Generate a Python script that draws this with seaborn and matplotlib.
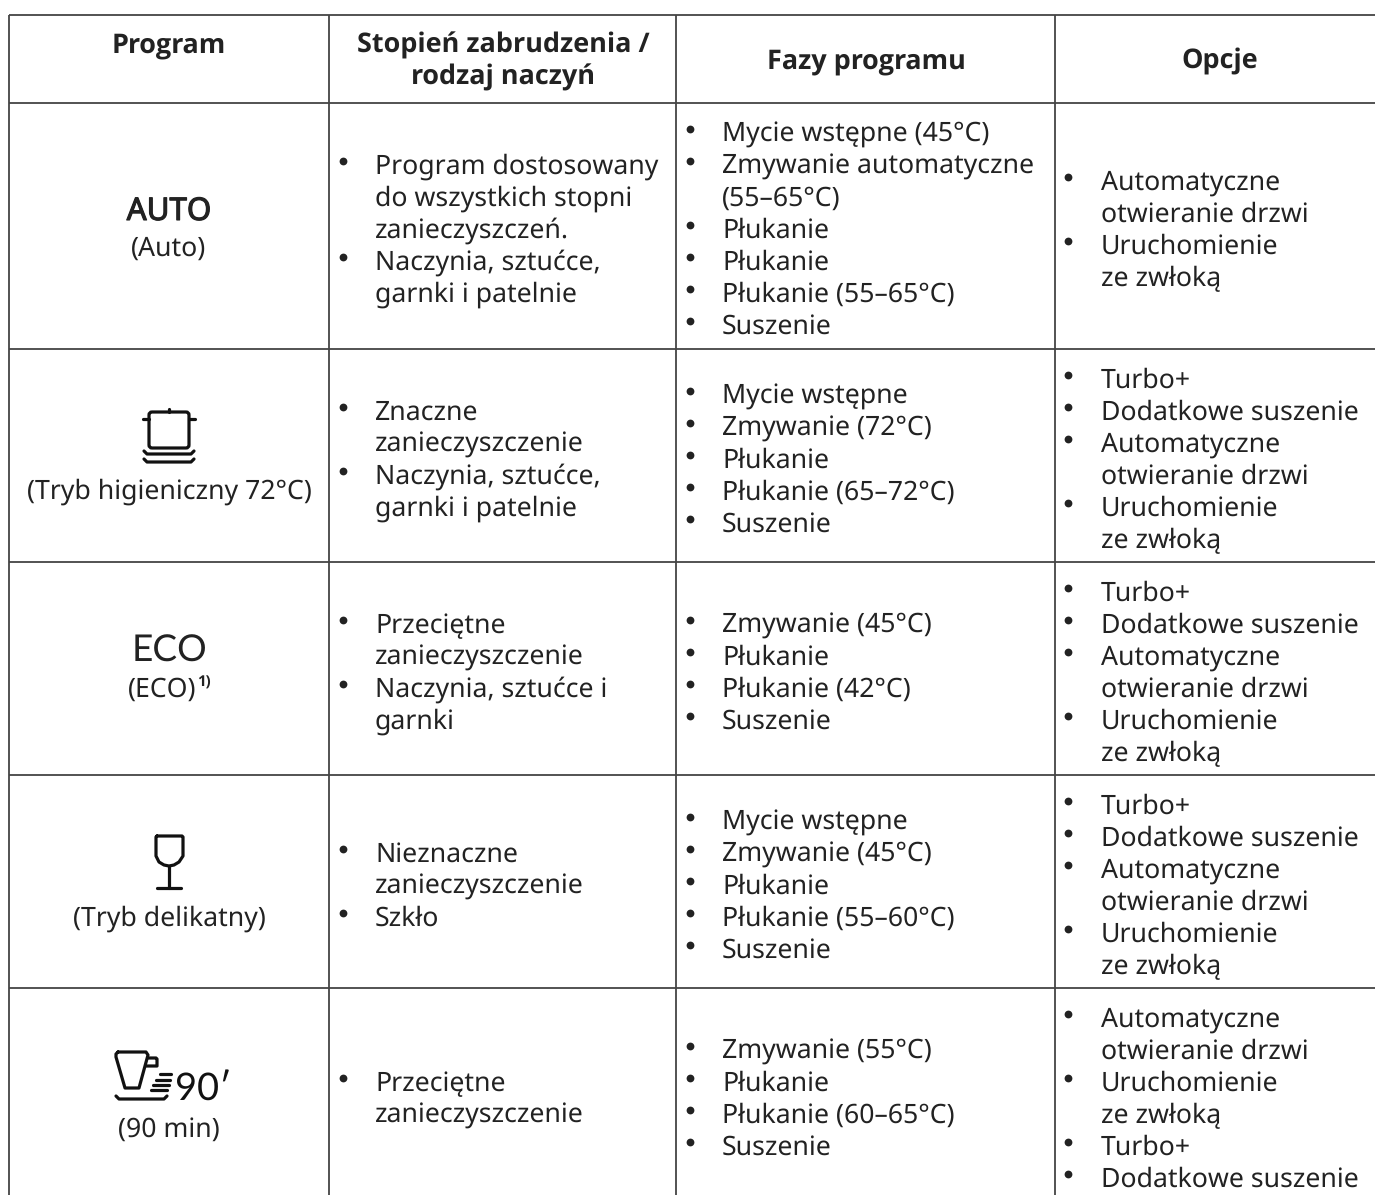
import matplotlib
matplotlib.use("Agg")
import matplotlib.pyplot as plt
import matplotlib.patheffects as pe
import seaborn as sns
from matplotlib.patches import FancyBboxPatch

sns.set_theme(style="white")
plt.rcParams["font.family"] = ["Noto Sans", "DejaVu Sans"]
plt.rcParams["text.hinting"] = "none"
plt.rcParams["text.hinting_factor"] = 1

# ====================================
# TABLE CONTENT
# ====================================

headers = ["Program", "Stopień zabrudzenia /\nrodzaj naczyń", "Fazy programu", "Opcje"]

program_names = ["(Auto)", "(Tryb higieniczny 72°C)", "(ECO)", "(Tryb delikatny)", "(90 min)"]

soil = [
    [["Program dostosowany", "do wszystkich stopni", "zanieczyszczeń."], ["Naczynia, sztućce,", "garnki i patelnie"]],
    [["Znaczne", "zanieczyszczenie"], ["Naczynia, sztućce,", "garnki i patelnie"]],
    [["Przeciętne", "zanieczyszczenie"], ["Naczynia, sztućce i", "garnki"]],
    [["Nieznaczne", "zanieczyszczenie"], ["Szkło"]],
    [["Przeciętne", "zanieczyszczenie"]],
]

phases = [
    [["Mycie wstępne (45°C)"], ["Zmywanie automatyczne", "(55–65°C)"], ["Płukanie"], ["Płukanie"],
     ["Płukanie (55–65°C)"], ["Suszenie"]],
    [["Mycie wstępne"], ["Zmywanie (72°C)"], ["Płukanie"], ["Płukanie (65–72°C)"], ["Suszenie"]],
    [["Zmywanie (45°C)"], ["Płukanie"], ["Płukanie (42°C)"], ["Suszenie"]],
    [["Mycie wstępne"], ["Zmywanie (45°C)"], ["Płukanie"], ["Płukanie (55–60°C)"], ["Suszenie"]],
    [["Zmywanie (55°C)"], ["Płukanie"], ["Płukanie (60–65°C)"], ["Suszenie"]],
]

door = ["Automatyczne", "otwieranie drzwi"]
delay = ["Uruchomienie", "ze zwłoką"]
options = [
    [door, delay],
    [["Turbo+"], ["Dodatkowe suszenie"], door, delay],
    [["Turbo+"], ["Dodatkowe suszenie"], door, delay],
    [["Turbo+"], ["Dodatkowe suszenie"], door, delay],
    [door, delay, ["Turbo+"], ["Dodatkowe suszenie"]],
]

# ====================================
# LAYOUT (pixels)
# ====================================

W, H = 1375, 1195
H_LINES = [15, 103, 349, 562, 775, 988]
V_LINES = [9, 329, 676, 1055]
COL_CENTERS = [169, 503, 866, 1220]
LINE_H = 32
BASE = 9
FS = 19.2
TEXT_COL = "#222222"
LINE_COL = "#444444"

soil_top = [165, 411, 624, 853, 1082]
phase_top = [133, 395, 624, 821, 1050]
option_top = [181, 379, 592, 805, 1018]
name_x = [169, 169, 162.5, 169, 169]
name_y = [247, 490, 688, 917, 1128]

fig = plt.figure(figsize=(W / 100, H / 100), dpi=100, facecolor="white")
ax = fig.add_axes([0, 0, 1, 1])
ax.set_xlim(0, W)
ax.set_ylim(H, 0)
ax.axis("off")

# grid lines
ax.hlines(H_LINES, 9, W, color=LINE_COL, lw=1.3)
ax.vlines(V_LINES, 15, H, color=LINE_COL, lw=1.3)


def put(x, y, s, **kw):
    kw.setdefault("fontsize", FS)
    kw.setdefault("color", TEXT_COL)
    return ax.text(x, y + BASE, s, va="baseline", **kw)


def bullets(items, x_bullet, x_text, y):
    for item in items:
        ax.plot([x_bullet], [y - 4], "o", ms=5.6, color=TEXT_COL, mew=0)
        for line in item:
            put(x_text, y, line)
            y += LINE_H


# header
for x, head in zip(COL_CENTERS, headers):
    parts = head.split("\n")
    y = 60 if len(parts) == 1 else 44
    if head == "Program":
        y = 44
    for part in parts:
        put(x, y, part, ha="center", family="Open Sans", fontweight="bold", fontsize=19.1)
        y += LINE_H

# body
for i in range(5):
    put(name_x[i], name_y[i], program_names[i], ha="center")
    bullets(soil[i], 343, 375, soil_top[i])
    bullets(phases[i], 690, 722, phase_top[i])
    bullets(options[i], 1068, 1101, option_top[i])

# superscript on ECO
ax.text(197, 687, "1)", fontsize=10.5, family="Open Sans", fontweight="bold", color=TEXT_COL, va="baseline")

# ====================================
# ICONS
# ====================================

auto = ax.text(169, 220, "AUTO", ha="center", va="baseline", fontsize=22.5, color=TEXT_COL)
auto.set_path_effects([pe.withStroke(linewidth=0.8, foreground=TEXT_COL)])
ax.text(169.5, 662, "ECO", ha="center", va="baseline", fontsize=26.5, color=TEXT_COL, family="Lato")
ax.text(175, 1100, "90′", ha="left", va="baseline", fontsize=27, color="#111111", family="Lato")

ICON = dict(color="#111111", lw=2.3, solid_capstyle="round", solid_joinstyle="round")

# pot and plates
ax.add_patch(FancyBboxPatch((149, 412), 40, 36, boxstyle="round,pad=0,rounding_size=3",
                            fc="none", ec="#111111", lw=2.3))
ax.plot([143, 149], [419, 419], **ICON)
ax.plot([189, 195], [419, 419], **ICON)
ax.plot([169, 169], [409, 412], **ICON)
ax.plot([144, 147, 191, 194], [451, 454, 454, 451], **ICON)
ax.plot([144, 147, 191, 194], [459, 462, 462, 459], **ICON)

# glass
ax.plot([157, 182, 183, 183, 179, 174, 169, 164, 159, 156, 156, 157],
        [836, 836, 837, 856, 862, 865, 866, 865, 862, 856, 837, 836], **ICON)
ax.plot([169, 169], [866, 888], **ICON)
ax.plot([157, 181], [888, 888], **ICON)

# cup
ax.plot([118, 146, 148, 139, 125, 116, 116, 118],
        [1052, 1052, 1055, 1088, 1088, 1057, 1054, 1052], **ICON)
ax.plot([148, 156, 157, 157, 146], [1058, 1058, 1059, 1066, 1066], **ICON)
ax.plot([116, 119, 164, 167], [1096, 1099, 1099, 1096], **ICON)
ax.plot([160, 171], [1074, 1074], **ICON)
ax.plot([156, 170], [1080, 1080], **ICON)
ax.plot([153, 169], [1085, 1085], **ICON)
ax.plot([151, 167], [1090, 1090], **ICON)

fig.savefig("out.png", dpi=100, facecolor="white")
